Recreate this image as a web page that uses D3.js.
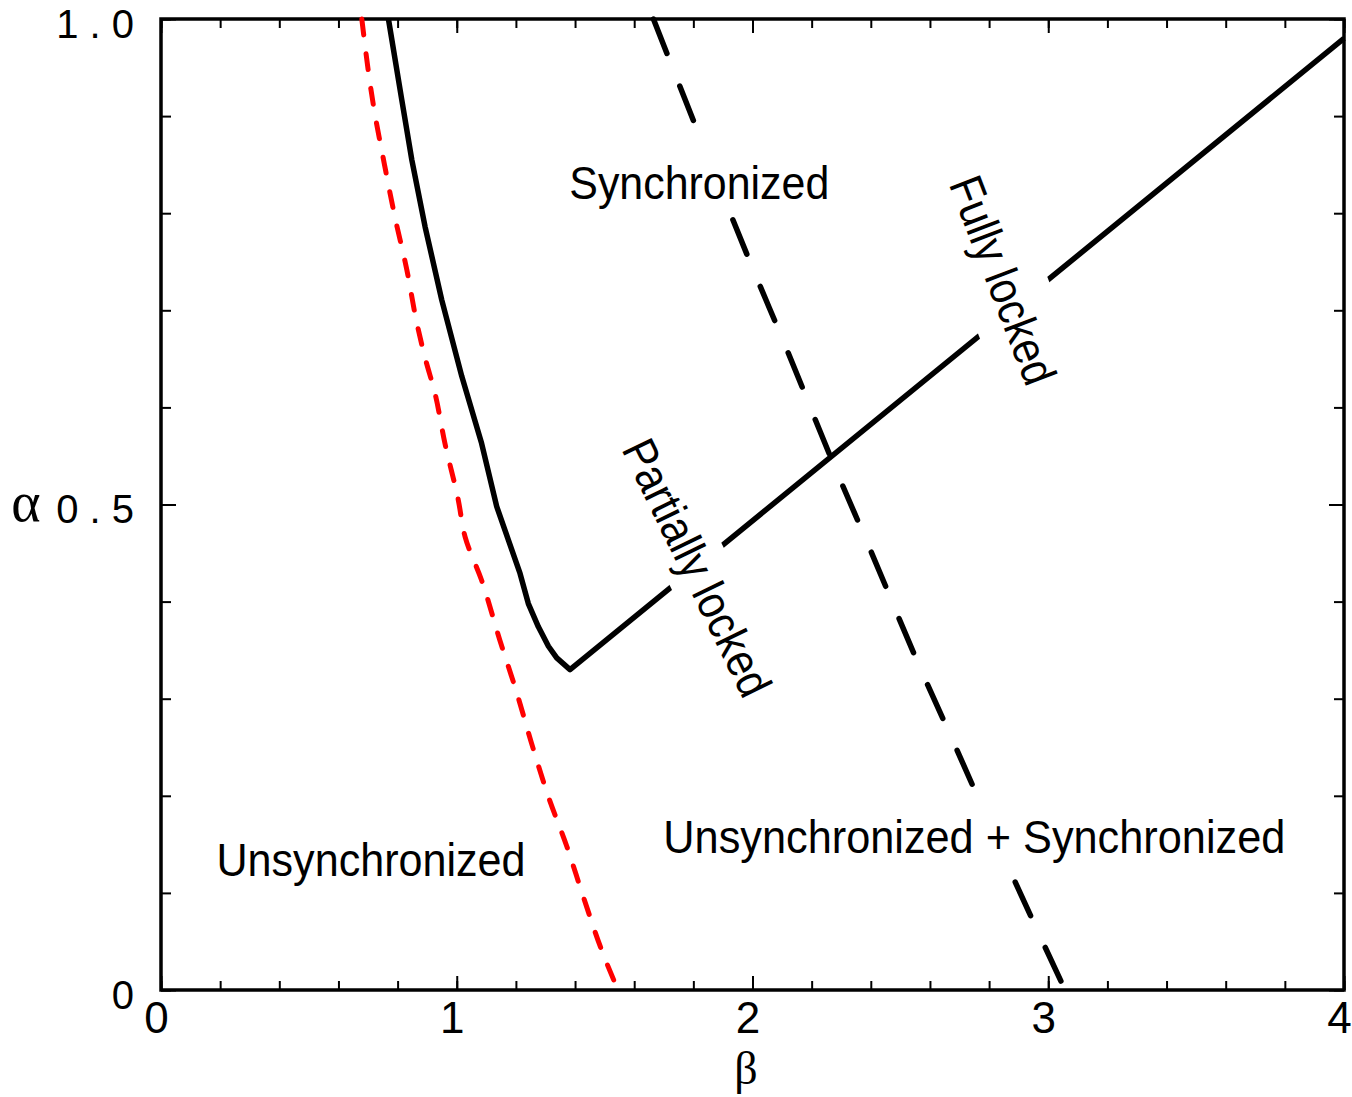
<!DOCTYPE html>
<html>
<head>
<meta charset="utf-8">
<script src="https://cdn.jsdelivr.net/npm/d3@7"></script>
<style>
  body { margin: 0; background: #fff; }
  svg { display: block; }
  .tick text { font-family: "Liberation Sans Narrow", "Arial Narrow", "Liberation Sans", sans-serif; }
</style>
</head>
<body>
<svg id="chart" width="1352" height="1097"></svg>
<script>
// boundary curves (beta, alpha)
var redBeta  = [0.679, 0.721, 0.755, 0.791, 0.831, 0.865, 0.893, 0.926, 0.960, 1.005, 1.028, 1.084, 1.146, 1.203, 1.253, 1.310, 1.372, 1.428, 1.490, 1.545];
var redAlpha = [1.000, 0.906, 0.851, 0.796, 0.742, 0.687, 0.651, 0.615, 0.563, 0.505, 0.467, 0.422, 0.360, 0.306, 0.254, 0.199, 0.148, 0.096, 0.041, 0.000];

var solidBeta  = [0.769, 0.814, 0.848, 0.893, 0.949, 1.017, 1.084, 1.135, 1.175, 1.214, 1.242, 1.276, 1.310, 1.338, 1.383, 4.000];
var solidAlpha = [1.000, 0.917, 0.855, 0.786, 0.711, 0.632, 0.563, 0.498, 0.463, 0.429, 0.398, 0.374, 0.354, 0.342, 0.330, 0.980];

var dashBeta  = [1.665, 1.806, 1.986, 2.121, 2.268, 2.403, 2.555, 2.696, 2.893, 3.057];
var dashAlpha = [1.000, 0.891, 0.754, 0.656, 0.546, 0.450, 0.340, 0.244, 0.108, 0.000];

var xMajor = [0, 1, 2, 3, 4];
var xMinor = d3.range(0, 4.01, 0.2);
var yMajor = [0, 0.5, 1];
var yMinor = d3.range(0, 1.001, 0.1);
var yTickLabels = ["0", "0 . 5", "1 . 0"];

// region labels: text, beta, alpha (centre), angle
var regionText  = ["Synchronized", "Unsynchronized", "Unsynchronized + Synchronized", "Partially locked", "Fully locked"];
var regionBeta  = [1.820, 0.710, 2.750, 1.813, 2.847];
var regionAlpha = [0.832, 0.134, 0.158, 0.435, 0.731];
var regionAngle = [0, 0, 0, 64, 69];
var regionWidth = [260, 309, 622, 280, 219];

var margin = {top: 19, right: 8, bottom: 107, left: 161},
    width = 1352 - margin.left - margin.right,
    height = 1097 - margin.top - margin.bottom;

var svg = d3.select("#chart");
var g = svg.append("g").attr("transform", "translate(" + margin.left + "," + margin.top + ")");

var x = d3.scaleLinear().domain([0, 4]).range([0, width]);
var y = d3.scaleLinear().domain([0, 1]).range([height, 0]);

// ticks, all pointing inwards
function tickAxis(axis, sel) {
  sel.call(axis);
  sel.select(".domain").remove();
  sel.selectAll(".tick line").attr("stroke", "#000").attr("stroke-width", 2);
}
tickAxis(d3.axisBottom(x).tickValues(xMinor).tickSize(-9).tickFormat(""),
  g.append("g").attr("transform", "translate(0," + height + ")"));
tickAxis(d3.axisTop(x).tickValues(xMinor).tickSize(-9).tickFormat(""), g.append("g"));
tickAxis(d3.axisLeft(y).tickValues(yMinor).tickSize(-10).tickFormat(""), g.append("g"));
tickAxis(d3.axisRight(y).tickValues(yMinor).tickSize(-10).tickFormat(""),
  g.append("g").attr("transform", "translate(" + width + ",0)"));

var xAx = g.append("g").attr("transform", "translate(0," + height + ")");
tickAxis(d3.axisBottom(x).tickValues(xMajor).tickSize(-14).tickFormat(d3.format("d")), xAx);
xAx.selectAll(".tick text")
  .attr("y", 43).attr("dy", 0).attr("dx", -5)
  .attr("font-size", 44).attr("fill", "#000");
tickAxis(d3.axisTop(x).tickValues(xMajor).tickSize(-14).tickFormat(""), g.append("g"));

var yAx = g.append("g");
tickAxis(d3.axisLeft(y).tickValues(yMajor).tickSize(-15)
  .tickFormat(function(d, i) { return yTickLabels[i]; }), yAx);
yAx.selectAll(".tick text")
  .attr("x", -27).attr("dy", 18)
  .attr("font-size", 40).attr("fill", "#000");
tickAxis(d3.axisRight(y).tickValues(yMajor).tickSize(-15).tickFormat(""),
  g.append("g").attr("transform", "translate(" + width + ",0)"));

// frame
g.append("rect")
  .attr("width", width).attr("height", height)
  .attr("fill", "none").attr("stroke", "#000").attr("stroke-width", 3.5);

// axis titles
svg.append("text").text("\u03b1")
  .attr("x", 26).attr("y", 521).attr("text-anchor", "middle")
  .attr("font-family", "Liberation Serif, serif").attr("font-size", 56);
svg.append("text").text("\u03b2")
  .attr("x", 746).attr("y", 1084).attr("text-anchor", "middle")
  .attr("font-family", "Liberation Serif, serif").attr("font-size", 46);

// curves
var line = d3.line().x(function(d) { return x(d[0]); }).y(function(d) { return y(d[1]); });

g.append("path")
  .datum(d3.zip(redBeta, redAlpha))
  .attr("d", line.curve(d3.curveMonotoneY))
  .attr("fill", "none").attr("stroke", "#ff0000").attr("stroke-width", 5)
  .attr("stroke-linecap", "round").attr("stroke-dasharray", "16,19");

g.append("path")
  .datum(d3.zip(solidBeta, solidAlpha))
  .attr("d", line.curve(d3.curveLinear))
  .attr("fill", "none").attr("stroke", "#000").attr("stroke-width", 5.5)
  .attr("stroke-linejoin", "round");

g.append("path")
  .datum(d3.zip(dashBeta, dashAlpha))
  .attr("d", line.curve(d3.curveMonotoneY))
  .attr("fill", "none").attr("stroke", "#000").attr("stroke-width", 5.5)
  .attr("stroke-linecap", "round").attr("stroke-dasharray", "37,35");

// region labels on white boxes (the "Fully locked" box cuts a wider gap in the line)
regionText.forEach(function(t, i) {
  var lg = g.append("g")
    .attr("transform", "translate(" + x(regionBeta[i]) + "," + y(regionAlpha[i]) + ") rotate(" + regionAngle[i] + ")");
  var box = lg.append("rect").attr("fill", "#fff");
  var txt = lg.append("text").text(t)
    .attr("text-anchor", "middle").attr("dy", "0.35em")
    .attr("font-family", "Liberation Sans Narrow, Arial Narrow, Liberation Sans, sans-serif")
    .attr("font-size", 47)
    .attr("textLength", regionWidth[i]).attr("lengthAdjust", "spacingAndGlyphs");
  var bb = txt.node().getBBox();
  var padY = t === "Fully locked" ? 16 : 6;
  box.attr("x", bb.x - 8).attr("y", bb.y - padY)
    .attr("width", bb.width + 16).attr("height", bb.height + 2 * padY);
});
</script>
</body>
</html>
